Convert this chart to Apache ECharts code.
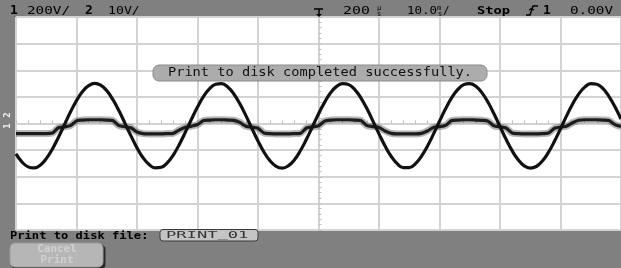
<!DOCTYPE html>
<html><head><meta charset="utf-8">
<script src="https://cdn.jsdelivr.net/npm/echarts@6/dist/echarts.min.js"></script>
<style>html,body{margin:0;padding:0;background:#808080;overflow:hidden}#c{width:621px;height:268px}</style>
</head><body><div id="c"></div>
<script>
// sample times (ms), screen spans -50 .. +50 ms (10 div x 10 ms)
const timeMs = [-50,-49,-48,-47,-46,-45,-44,-43,-42,-41,-40,-39,-38,-37,-36,-35,-34,-33,-32,-31,
  -30,-29,-28,-27,-26,-25,-24,-23,-22,-21,-20,-19,-18,-17,-16,-15,-14,-13,-12,-11,
  -10,-9,-8,-7,-6,-5,-4,-3,-2,-1,0,1,2,3,4,5,6,7,8,9,10,11,12,13,14,15,16,17,18,19,
  20,21,22,23,24,25,26,27,28,29,30,31,32,33,34,35,36,37,38,39,40,41,42,43,44,45,46,47,48,49,50];
// channel 1 (200 V/div), volts
const ch1Volts = [-228,-290,-326,-334,-313,-264,-193,-105,-9,86,
  172,240,284,301,288,247,181,97,3,-93,
  -183,-257,-308,-333,-329,-296,-237,-157,-65,32,
  124,203,262,295,299,274,222,148,59,-38,
  -132,-216,-281,-322,-335,-318,-274,-205,-119,-24,
  72,159,231,279,300,292,255,193,112,18,
  -78,-169,-246,-302,-331,-331,-303,-247,-171,-80,
  17,110,192,254,292,300,280,232,161,73,
  -23,-118,-204,-273,-318,-335,-323,-282,-217,-134,
  -40,57,146,221,273,299,295,263,204,125,33];
// channel 2 (10 V/div), volts
const ch2Volts = [-3.8,-3.8,-3.8,-3.8,-3.8,-3.8,-3.6,-1.6,-1.25,-0.8,
  1.0,1.3,1.4,1.4,1.4,1.3,1.1,-0.8,-1.22,-1.6,
  -3.2,-3.8,-3.9,-3.9,-3.9,-3.8,-3.7,-2.4,-1.4,-1.0,
  -0.4,1.1,1.3,1.4,1.4,1.3,1.2,0.4,-1.07,-1.4,
  -1.8,-3.6,-3.8,-3.9,-3.9,-3.9,-3.8,-3.7,-1.7,-1.29,
  -0.9,0.9,1.3,1.4,1.4,1.4,1.3,1.1,-0.8,-1.18,
  -1.5,-2.8,-3.7,-3.9,-3.9,-3.9,-3.9,-3.7,-2.8,-1.5,
  -1.18,-0.7,1.1,1.3,1.4,1.4,1.3,1.2,0.9,-0.9,
  -1.29,-1.7,-3.6,-3.8,-3.9,-3.9,-3.9,-3.8,-3.6,-1.8,
  -1.33,-1.0,0.3,1.2,1.4,1.4,1.4,1.3,1.1,-0.4,-1.13];
const ch1Scale = ['1', '200V/'];
const ch2Scale = ['2', '10V/'];
const delayText = ['200', 'µ', 's'];
const timebaseText = ['10.0', 'm', 's', '/'];
const runText = 'Stop';
const trigText = ['1', '0.00V'];
const messageText = 'Print to disk completed successfully.';
const fileLabel = 'Print to disk file:';
const fileName = 'PRINT_01';
const buttonText = ['Cancel', 'Print'];

const FONT = "'DejaVu Sans Mono', monospace";
function txt(s, x, y, size, o) {
  o = o || {};
  return {
    type: 'text', x: x, y: y, scaleX: o.sx || 1, z: 100, silent: true,
    style: {
      text: s, x: 0, y: 0, fill: o.fill || '#000',
      font: (o.bold ? 'bold ' : '') + size + 'px ' + FONT,
      align: o.align || 'left', textAlign: o.align || 'left',
      verticalAlign: 'middle', textVerticalAlign: 'middle'
    }
  };
}
const pair = (a, b) => a.map((t, i) => [t, b[i]]);
const gridCol = '#d3d3d3';

const chart = echarts.init(document.getElementById('c'), null, {renderer: 'canvas'});
chart.setOption({
  animation: false,
  backgroundColor: '#808080',
  grid: {left: 16, right: 0, top: 17, bottom: 38, show: true, backgroundColor: '#ffffff', borderWidth: 0},
  xAxis: {
    type: 'value', min: -50, max: 50, interval: 10,
    axisLabel: {show: false},
    splitLine: {show: true, lineStyle: {color: gridCol, width: 2}},
    axisLine: {show: true, onZero: true, lineStyle: {color: gridCol, width: 2}},
    axisTick: {show: true, inside: true, length: 3, lineStyle: {color: '#bdbdbd'}},
    minorTick: {show: true, splitNumber: 5, length: 3, lineStyle: {color: '#bdbdbd', width: 1}}
  },
  yAxis: [{
    type: 'value', min: -800, max: 800, interval: 200,
    axisLabel: {show: false},
    splitLine: {show: true, lineStyle: {color: gridCol, width: 2}},
    axisLine: {show: true, onZero: true, lineStyle: {color: gridCol, width: 2}},
    axisTick: {show: true, inside: true, length: 3, lineStyle: {color: '#bdbdbd'}},
    minorTick: {show: true, splitNumber: 5, length: 3, lineStyle: {color: '#bdbdbd', width: 1}}
  }, {
    type: 'value', min: -40, max: 40, interval: 10, show: false
  }],
  series: [
    {type: 'line', yAxisIndex: 1, data: pair(timeMs, ch2Volts), showSymbol: false, silent: true,
     smooth: 0.25, lineStyle: {width: 7, color: 'rgba(95,95,95,0.45)'}, z: 2},
    {type: 'line', yAxisIndex: 1, data: pair(timeMs, ch2Volts), showSymbol: false, silent: true,
     smooth: 0.25, lineStyle: {width: 3.2, color: '#1c1c1c'}, z: 3},
    {type: 'line', yAxisIndex: 0, data: pair(timeMs, ch1Volts), showSymbol: false, silent: true,
     smooth: 0.45, lineStyle: {width: 3.2, color: '#111111'}, z: 4}
  ],
  graphic: [
    // top status bar
    txt(ch1Scale[0], 10, 11, 13, {bold: true}),
    txt(ch1Scale[1], 27, 11, 11, {sx: 1.3}),
    txt(ch2Scale[0], 85, 11, 13, {bold: true}),
    txt(ch2Scale[1], 108, 11, 11, {sx: 1.2}),
    {type: 'polyline', z: 100, silent: true, shape: {points: [[314, 9], [323, 9]]}, style: {stroke: '#000', lineWidth: 1.5, fill: null}},
    {type: 'polyline', z: 100, silent: true, shape: {points: [[319, 9], [319, 15]]}, style: {stroke: '#000', lineWidth: 1.5, fill: null}},
    {type: 'polygon', z: 100, silent: true, shape: {points: [[316, 14], [322, 14], [319, 17]]}, style: {fill: '#000'}},
    txt(delayText[0], 343, 11, 11, {sx: 1.35}),
    txt(delayText[1], 377, 8, 7),
    txt(delayText[2], 377, 14, 7),
    txt(timebaseText[0], 407, 11, 11, {sx: 1.13}),
    txt(timebaseText[1], 437, 8, 7),
    txt(timebaseText[2], 438, 14, 7),
    txt(timebaseText[3], 443, 11, 11),
    txt(runText, 477, 11, 11, {bold: true, sx: 1.25}),
    {type: 'polyline', z: 100, silent: true, shape: {points: [[526, 15], [530, 15], [533, 6], [538, 6]]}, style: {stroke: '#000', lineWidth: 1.5, fill: null}},
    {type: 'polyline', z: 100, silent: true, shape: {points: [[529, 10], [531.5, 8.5], [534, 10]]}, style: {stroke: '#000', lineWidth: 1.2, fill: null}},
    txt(trigText[0], 543, 11, 13, {bold: true}),
    txt(trigText[1], 570, 11, 11, {sx: 1.3}),
    // channel ground markers on left
    {type: 'text', x: 8, y: 115, rotation: Math.PI / 2, z: 100, silent: true,
     style: {text: '2', x: 0, y: 0, fill: '#f0f0f0', font: 'bold 9px ' + FONT, align: 'center', textAlign: 'center', verticalAlign: 'middle', textVerticalAlign: 'middle'}},
    {type: 'text', x: 8, y: 126, rotation: Math.PI / 2, z: 100, silent: true,
     style: {text: '1', x: 0, y: 0, fill: '#f0f0f0', font: 'bold 9px ' + FONT, align: 'center', textAlign: 'center', verticalAlign: 'middle', textVerticalAlign: 'middle'}},
    // message box
    {type: 'rect', z: 99, silent: true, shape: {x: 153, y: 65, width: 334, height: 16, r: 6}, style: {fill: '#acacac', stroke: '#8c8c8c', lineWidth: 1}},
    txt(messageText, 320, 73, 13, {align: 'center', sx: 1.05, fill: '#111'}),
    // bottom softkey area
    txt(fileLabel, 10, 236.5, 11, {bold: true, sx: 1.1}),
    {type: 'rect', z: 99, silent: true, shape: {x: 160, y: 229.5, width: 98, height: 11.5, r: 3}, style: {fill: '#c4c4c4', stroke: '#3a3a3a', lineWidth: 1}},
    txt(fileName, 166, 235.5, 9, {sx: 1.9, fill: '#333'}),
    {type: 'rect', z: 98, silent: true, shape: {x: 11.5, y: 244.5, width: 94, height: 25, r: 5}, style: {fill: '#2a2a2a'}},
    {type: 'rect', z: 99, silent: true, shape: {x: 10, y: 243, width: 93, height: 24, r: 5}, style: {fill: '#b6b6b6', stroke: '#9a9a9a', lineWidth: 1}},
    txt(buttonText[0], 57, 249.5, 10, {align: 'center', bold: true, fill: '#d0d0d0', sx: 1.1}),
    txt(buttonText[1], 57, 260.5, 10, {align: 'center', bold: true, fill: '#d0d0d0', sx: 1.1})
  ]
});
</script></body></html>
